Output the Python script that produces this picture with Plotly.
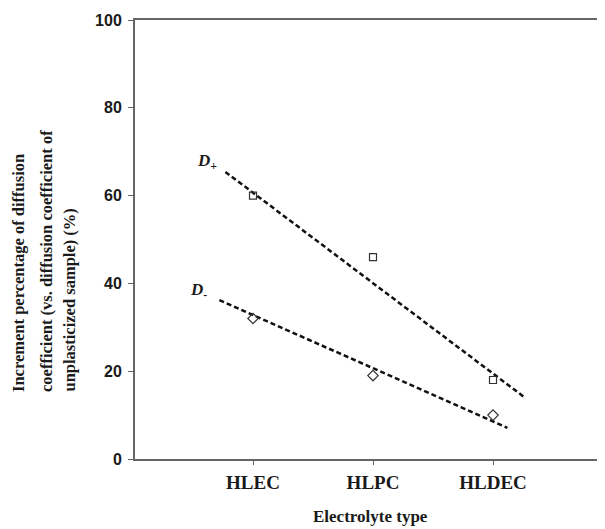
import plotly.graph_objects as go

categories = ["HLEC", "HLPC", "HLDEC"]
d_plus = [60, 46, 18]
d_minus = [32, 19, 10]
y_ticks = [0, 20, 40, 60, 80, 100]

# dashed trend lines (x in category units, 1 = HLEC)
trend_plus_x = [0.77, 3.27]
trend_plus_y = [65.4, 13.9]
trend_minus_x = [0.72, 3.12]
trend_minus_y = [36.2, 7.1]

xpos = list(range(1, len(categories) + 1))

# the page body has an 8px margin, so the figure is placed at (8, 8)
OFF = 8
W, H = 605 - OFF, 529 - OFF
L, T, B = 135 - OFF, 20 - OFF, 70
PW, PH = W - L, H - T - B

def px(xp):  # page x -> paper x
    return (xp - OFF - L) / PW

def py(yp):  # page y -> paper y
    return (H - B - (yp - OFF)) / PH

serif = "Liberation Serif, Times New Roman, serif"
sans = "Liberation Sans, Arial, sans-serif"
ink = "#1a1a1a"

fig = go.Figure()
for tx, ty in [(trend_plus_x, trend_plus_y), (trend_minus_x, trend_minus_y)]:
    fig.add_trace(go.Scatter(x=tx, y=ty, mode="lines",
                             line=dict(color="#111", width=2.5, dash="5px,3px"), showlegend=False))
fig.add_trace(go.Scatter(x=xpos, y=d_plus, mode="markers",
                         marker=dict(symbol="square-open", size=7, color="#333", line=dict(width=1.2)),
                         showlegend=False))
fig.add_trace(go.Scatter(x=xpos, y=d_minus, mode="markers",
                         marker=dict(symbol="diamond-open", size=8, color="#333", line=dict(width=1.2)),
                         showlegend=False))

title_lines = ["Increment percentage of diffusion",
               "coefficient (vs. diffusion coefficient of",
               "unplasticized sample) (%)"]
title_x = [18, 46, 69]

annotations = [
    dict(text="<b>Electrolyte type</b>", x=px(370), y=py(516), xref="paper", yref="paper",
         showarrow=False, xanchor="center", yanchor="middle",
         font=dict(family=serif, size=17, color=ink)),
    dict(text="<b><i>D</i><sub>+</sub></b>", x=0.517, y=67.7, xref="x", yref="y",
         showarrow=False, xanchor="left", yanchor="middle",
         font=dict(family=serif, size=17, color=ink)),
    dict(text="<b><i>D</i><sub>-</sub></b>", x=0.458, y=38.3, xref="x", yref="y",
         showarrow=False, xanchor="left", yanchor="middle",
         font=dict(family=serif, size=17, color=ink)),
]
for line, xx in zip(title_lines, title_x):
    annotations.append(dict(text=f"<b>{line}</b>", x=px(xx), y=py(394), xref="paper", yref="paper",
                            showarrow=False, textangle=-90, xanchor="center", yanchor="bottom",
                            font=dict(family=serif, size=16.5, color=ink)))

fig.update_layout(
    width=W, height=H,
    margin=dict(l=L, r=0, t=T, b=B, pad=0),
    plot_bgcolor="white", paper_bgcolor="white",
    xaxis=dict(range=[0.0167, 0.0167 + PW / 120], tickvals=xpos,
               ticktext=[f"<b>{c}</b>" for c in categories],
               showline=True, linecolor="#666", linewidth=2, mirror=True,
               ticks="outside", ticklen=4, tickcolor="#666", showgrid=False, zeroline=False,
               ticklabelstandoff=1,
               tickfont=dict(family=serif, size=19, color=ink)),
    yaxis=dict(range=[0, 100], tickvals=y_ticks, ticktext=[f"<b>{v}</b>" for v in y_ticks],
               showline=True, linecolor="#666", linewidth=2,
               ticks="outside", ticklen=5, tickcolor="#666", showgrid=False, zeroline=False,
               ticklabelstandoff=3,
               tickfont=dict(family=sans, size=16, color=ink)),
    font=dict(family=serif, color=ink),
    annotations=annotations,
)

fig.write_html("out.html")
